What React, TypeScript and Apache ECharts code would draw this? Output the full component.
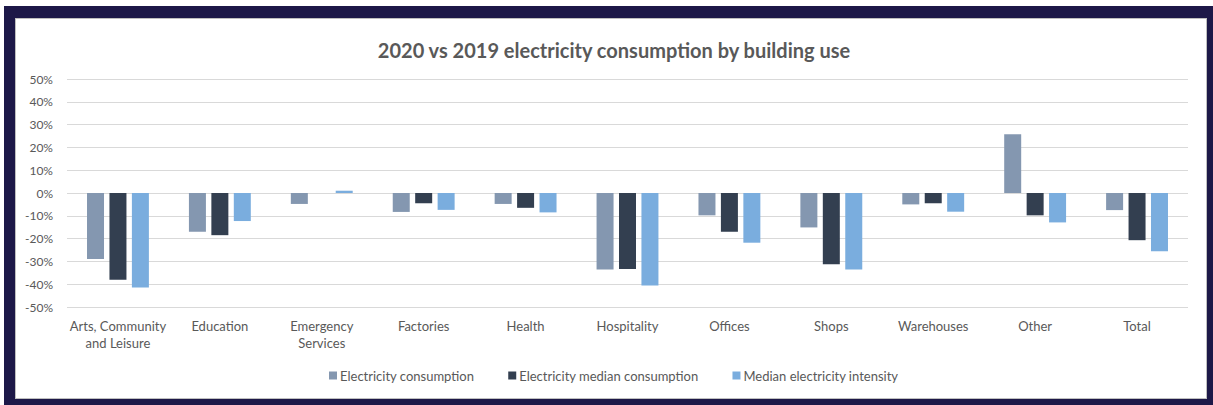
import React, { useEffect, useRef } from "react";
import * as echarts from "echarts";

const categories = [
  "Arts, Community\nand Leisure",
  "Education",
  "Emergency\nServices",
  "Factories",
  "Health",
  "Hospitality",
  "Offices",
  "Shops",
  "Warehouses",
  "Other",
  "Total",
];
const electricityConsumption = [-29, -17, -4.8, -8.3, -4.8, -33.6, -9.8, -15.1, -5, 25.8, -7.5];
const electricityMedianConsumption = [-38, -18.5, 0, -4.5, -6.5, -33.3, -17, -31.2, -4.5, -9.8, -20.7];
const medianElectricityIntensity = [-41.5, -12.3, 1, -7.4, -8.5, -40.6, -21.8, -33.6, -8.2, -12.9, -25.5];
const seriesNames = [
  "Electricity consumption",
  "Electricity median consumption",
  "Median electricity intensity",
];
const chartTitle = "2020 vs 2019 electricity consumption by building use";

const FONT = "Lato, 'Open Sans', sans-serif";

export default function App() {
  const ref = useRef<HTMLDivElement>(null);
  useEffect(() => {
    if (!ref.current) return;
    const chart = echarts.init(ref.current, null, { renderer: "svg" });
    const colors = ["#8497B0", "#333F50", "#7AADDE"];
    const data = [electricityConsumption, electricityMedianConsumption, medianElectricityIntensity];
    chart.setOption({
      animation: false,
      title: {
        text: chartTitle,
        left: 609,
        textAlign: "center",
        top: 35,
        textStyle: { fontFamily: FONT, fontSize: 20, fontWeight: "bold", color: "#595959" },
      },
      legend: {
        data: seriesNames,
        left: 324,
        top: 364,
        icon: "rect",
        itemWidth: 8,
        itemHeight: 8,
        itemGap: 34,
        textStyle: { fontFamily: FONT, fontSize: 13, color: "#595959", padding: [0, 0, 0, -2] },
      },
      grid: { left: 67, right: 25, top: 79, bottom: 98, containLabel: false },
      xAxis: {
        type: "category",
        data: categories,
        axisLine: { show: false, onZero: false },
        axisTick: { show: false },
        axisLabel: {
          interval: 0,
          margin: 10,
          fontFamily: FONT,
          fontSize: 13,
          lineHeight: 17,
          color: "#595959",
        },
      },
      yAxis: {
        type: "value",
        min: -50,
        max: 50,
        interval: 10,
        axisLine: { show: false },
        axisTick: { show: false },
        axisLabel: {
          formatter: "{value}%",
          margin: 14,
          fontFamily: FONT,
          fontSize: 12,
          color: "#595959",
        },
        splitLine: { lineStyle: { color: "#D9D9D9", width: 1 } },
      },
      series: seriesNames.map((name, i) => ({
        name,
        type: "bar",
        data: data[i],
        barWidth: 17,
        barGap: "32%",
        itemStyle: { color: colors[i] },
      })),
    });
    return () => chart.dispose();
  }, []);

  return (
    <div style={{ position: "fixed", left: 0, top: 0, width: 1213, height: 405, background: "#fff" }}>
      <div
        style={{
          position: "absolute",
          left: 4,
          top: 6,
          width: 1209,
          height: 399,
          background: "#1D1848",
        }}
      />
      <div
        style={{
          position: "absolute",
          left: 15,
          top: 18,
          width: 1190,
          height: 379,
          background: "#fff",
          border: "1px solid #BFBFBF",
        }}
      />
      <div ref={ref} style={{ position: "absolute", left: 0, top: 0, width: 1213, height: 405 }} />
    </div>
  );
}
